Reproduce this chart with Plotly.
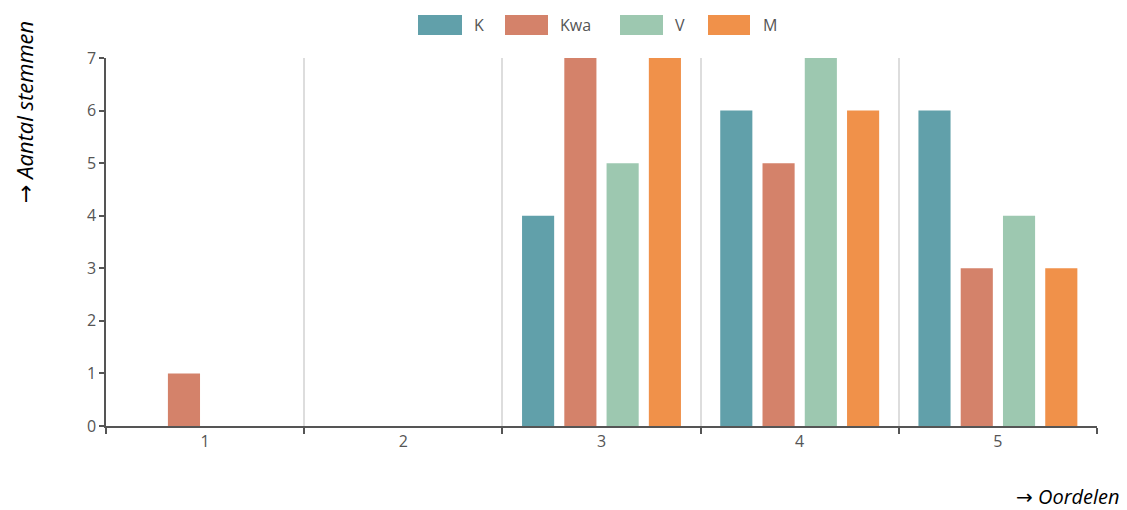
import plotly.graph_objects as go

categories = [1, 2, 3, 4, 5]
series_names = ["K", "Kwa", "V", "M"]
values_K = [0, 0, 4, 6, 6]
values_Kwa = [1, 0, 7, 5, 3]
values_V = [0, 0, 5, 7, 4]
values_M = [0, 0, 7, 6, 3]
colors = ["#61a0aa", "#d4826a", "#9dc8b0", "#f0914a"]
y_ticks = [0, 1, 2, 3, 4, 5, 6, 7]

all_values = [values_K, values_Kwa, values_V, values_M]

fig = go.Figure()
for name, vals, col in zip(series_names, all_values, colors):
    fig.add_trace(go.Bar(x=categories, y=vals, name=name, marker=dict(color=col, line=dict(width=0)),
                         showlegend=False))

OFF = 8  # page body margin
W, H = 1127 - OFF, 510 - OFF
L = 106 - OFF
T = 58 - OFF
R = W - (1097 - OFF)
B = H - (426 - OFF)
fig.update_layout(
    width=W, height=H,
    margin=dict(l=L, r=R, t=T, b=B),
    paper_bgcolor="white", plot_bgcolor="white",
    barmode="group", bargap=0.147, bargroupgap=0.24,
    font=dict(family="Open Sans", size=15, color="#555555"),
)
fig.update_xaxes(
    range=[0.5, 5.5], tickvals=categories, ticktext=[str(c) for c in categories],
    showgrid=False, ticks="", showline=True, linecolor="#555555", linewidth=1.5,
    zeroline=False,
    minor=dict(tick0=0.5, dtick=1, showgrid=True, gridcolor="#dddddd", gridwidth=1.5,
               ticks="outside", ticklen=6, tickcolor="#555555", tickwidth=1.5),
    tickfont=dict(size=16, color="#555555"),
)
fig.update_yaxes(
    range=[0, 7], tickvals=y_ticks, showgrid=False, zeroline=False,
    showline=True, linecolor="#555555", linewidth=1.5,
    ticks="outside", ticklen=5, tickcolor="#555555", tickwidth=1.5,
    tickfont=dict(size=16, color="#555555"),
)

pw = W - L - R
ph = H - T - B
def px_to_x(px):
    return (px - OFF - L) / pw
def py_to_y(py):
    return (H - B - (py - OFF)) / ph

legend_boxes = [(418, 462, 472), (505, 548, 558), (620, 663, 673), (708, 750, 761)]
for (x0, x1, tx), name, col in zip(legend_boxes, series_names, colors):
    fig.add_shape(type="rect", xref="paper", yref="paper",
                  x0=px_to_x(x0), x1=px_to_x(x1), y0=py_to_y(35), y1=py_to_y(15),
                  fillcolor=col, line=dict(width=0), layer="above")
    fig.add_annotation(xref="paper", yref="paper", x=px_to_x(tx), y=py_to_y(25),
                       xanchor="left", yanchor="middle", text=name, showarrow=False,
                       font=dict(family="Open Sans", size=16, color="#555555"))

arrow = '<span style="font-family:DejaVu Sans;font-style:normal">→</span> '
fig.add_annotation(xref="paper", yref="paper", x=px_to_x(24), y=py_to_y(112),
                   xanchor="center", yanchor="middle", textangle=-90,
                   text=arrow + "<i>Aantal stemmen</i>", showarrow=False,
                   font=dict(family="Open Sans", size=22, color="#000000"))
fig.add_annotation(xref="paper", yref="paper", x=px_to_x(1122), y=py_to_y(497),
                   xanchor="right", yanchor="middle",
                   text=arrow + "<i>Oordelen</i>", showarrow=False,
                   font=dict(family="Open Sans", size=20, color="#000000"))

fig.write_html("out.html")
